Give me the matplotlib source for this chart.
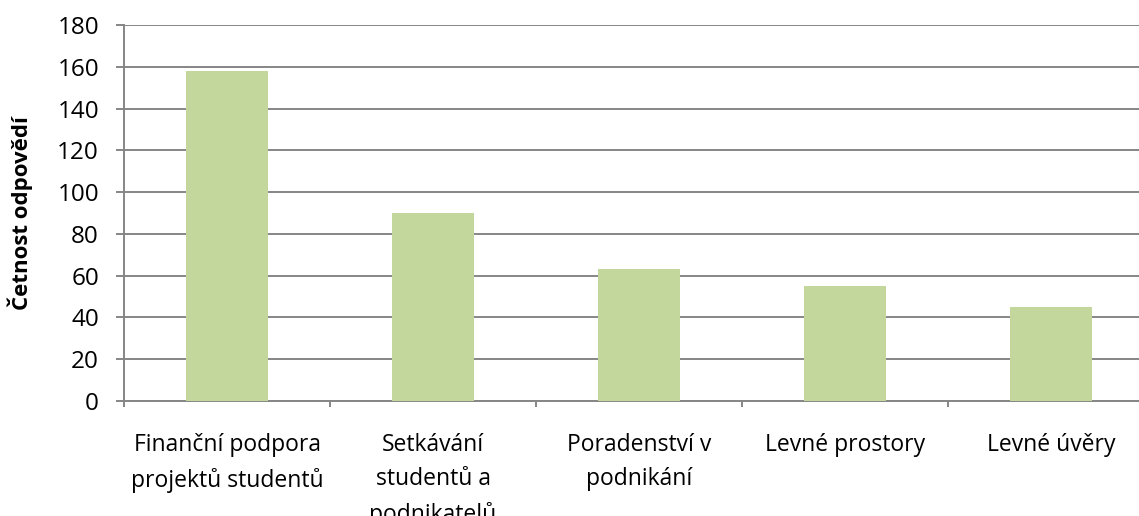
import numpy as np
import matplotlib.pyplot as plt

categories = ["Finanční podpora\nprojektů studentů", "Setkávání\nstudentů a\npodnikatelů",
              "Poradenství v\npodnikání", "Levné prostory", "Levné úvěry"]
counts = [158, 90, 63, 55, 45]
yticks = list(range(0, 181, 20))

plt.rcParams['font.family'] = ['Open Sans', 'DejaVu Sans']

fig = plt.figure(figsize=(11.39, 5.16), dpi=100)
# axes: left edge at x=124 px, right edge beyond the picture (cropped)
ax = fig.add_axes([124 / 1139, (516 - 401) / 516, 1030 / 1139, 376 / 516])

x = np.arange(len(categories))
ax.bar(x, counts, width=0.40, color='#C3D69B', zorder=3)

ax.set_xlim(-0.5, len(categories) - 0.5)
ax.set_ylim(0, 180)
ax.set_yticks(yticks)
ax.set_yticklabels([str(v) for v in yticks], fontsize=17.5)
ax.yaxis.grid(True, color='#868686', linewidth=1.4, zorder=0)

# category labels centred, tick marks on the boundaries
ax.set_xticks(x)
ax.set_xticklabels(categories, fontsize=16.5, linespacing=1.58, va='top')
ax.tick_params(axis='x', length=0, pad=23)
ax.set_xticks(np.arange(-0.5, len(categories)), minor=True)
ax.tick_params(axis='x', which='minor', length=4.5, color='#868686', width=1.4)
ax.tick_params(axis='y', length=6, color='#868686', width=1.4, pad=12)

for s in ['top', 'right']:
    ax.spines[s].set_visible(False)
for s in ['left', 'bottom']:
    ax.spines[s].set_color('#868686')
    ax.spines[s].set_linewidth(1.4)

ax.set_ylabel("Četnost odpovědí", fontsize=16, fontweight='bold')
ax.yaxis.set_label_coords(-0.088, 0.5)

fig.savefig("out.png", dpi=100)
